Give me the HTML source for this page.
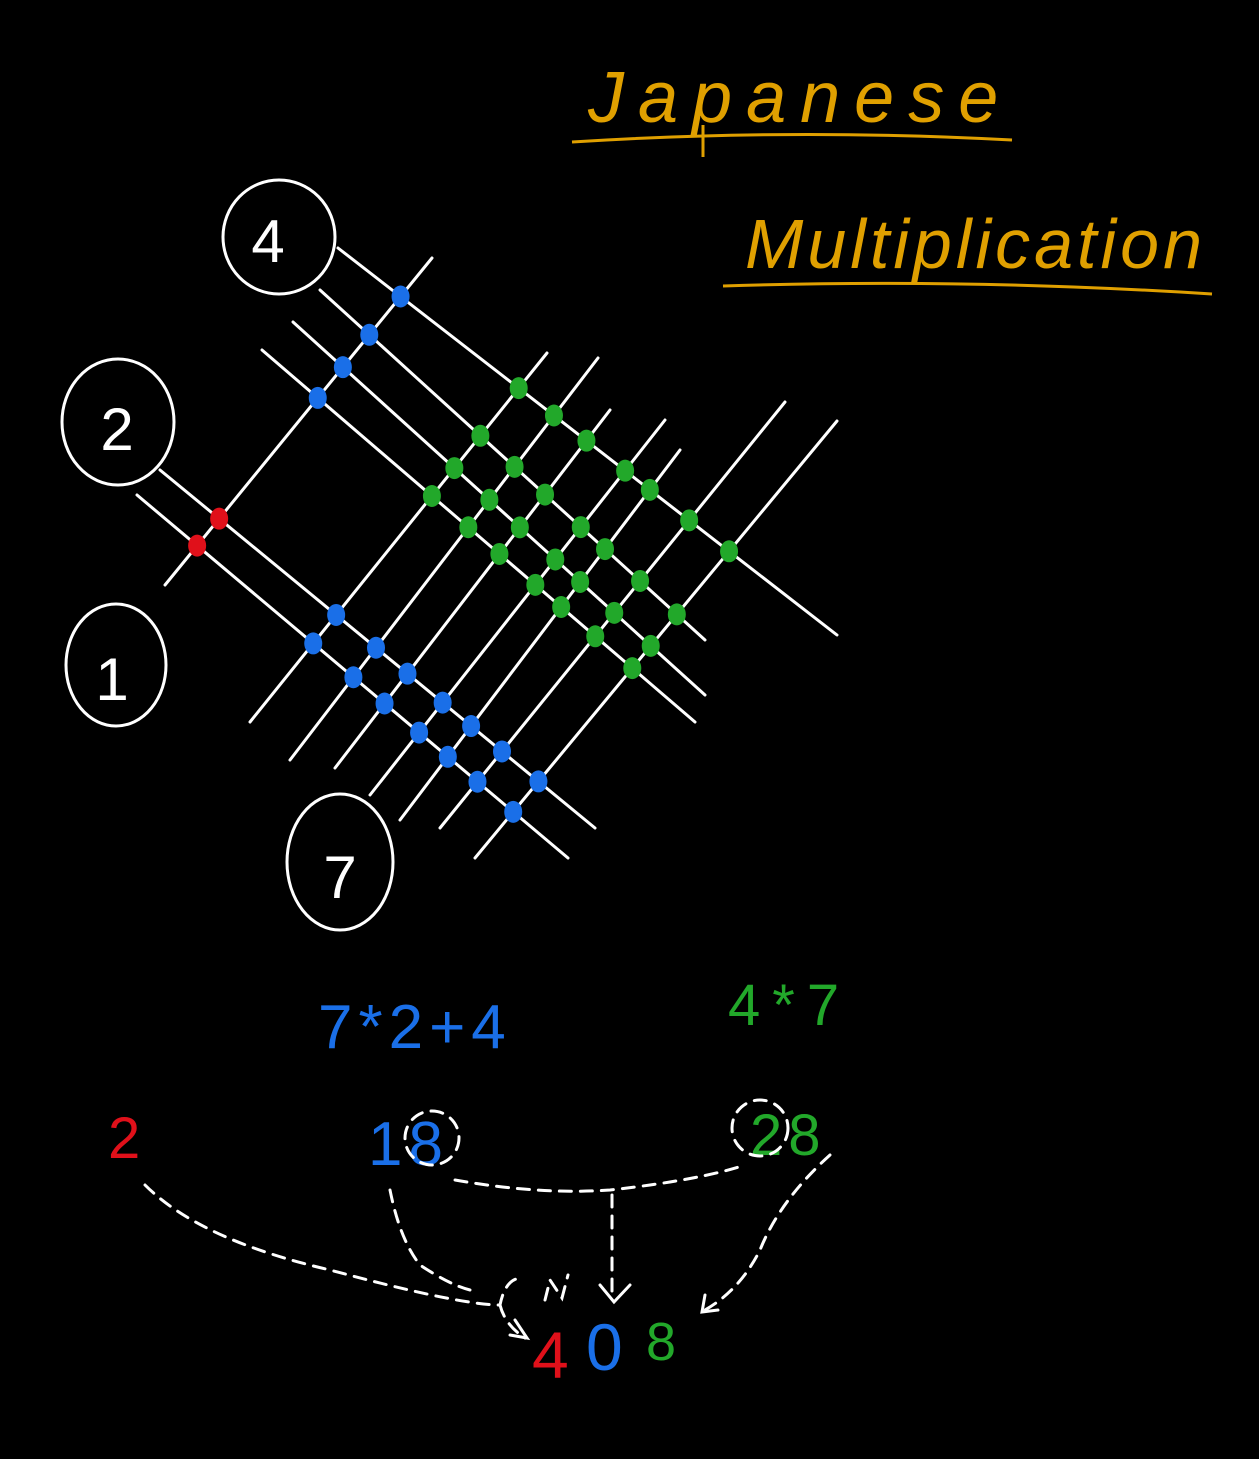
<!DOCTYPE html>
<html><head><meta charset="utf-8"><style>
html,body{margin:0;padding:0;background:#000;}
svg{display:block}
text{font-family:"Liberation Sans",sans-serif;}
</style></head><body>
<svg id="s" width="1259" height="1459" viewBox="0 0 1259 1459" xmlns="http://www.w3.org/2000/svg">
<rect width="1259" height="1459" fill="#000"/>
<!-- title -->
<text x="588" y="122" fill="#e0a000" font-size="72" letter-spacing="14" font-family="Liberation Serif, serif" font-style="italic">Japanese</text>
<path d="M572 142 Q790 128 1012 140" stroke="#e0a000" stroke-width="3" fill="none"/>
<line x1="703" y1="125" x2="703" y2="157" stroke="#e0a000" stroke-width="3"/>
<text x="745" y="268" fill="#e0a000" font-size="70" letter-spacing="8" font-family="Liberation Serif, serif" font-style="italic" textLength="465">Multiplication</text>
<path d="M723 286 Q960 278 1212 294" stroke="#e0a000" stroke-width="3" fill="none"/>
<g id="lines" stroke="#fff" stroke-width="3" fill="none" stroke-linecap="round"></g>
<g id="dots"></g>
<!-- circles -->
<g stroke="#fff" stroke-width="3" fill="none">
<ellipse cx="279" cy="237" rx="56" ry="57"/>
<ellipse cx="118" cy="422" rx="56" ry="63"/>
<ellipse cx="116" cy="665" rx="50" ry="61"/>
<ellipse cx="340" cy="862" rx="53" ry="68"/>
</g>
<g fill="#fff" font-size="60" text-anchor="middle">
<text x="268" y="262">4</text>
<text x="117" y="450">2</text>
<text x="112" y="700">1</text>
<text x="340" y="898">7</text>
</g>
<!-- bottom -->
<text x="318" y="1048" fill="#1a6fe8" font-size="62" letter-spacing="6">7*2+4</text>
<text x="728" y="1025" fill="#22a82a" font-size="58" letter-spacing="12">4*7</text>
<text x="108" y="1158" fill="#e0101a" font-size="58">2</text>
<text x="368" y="1165" fill="#1a6fe8" font-size="62" letter-spacing="6">18</text>
<text x="750" y="1155" fill="#22a82a" font-size="58" letter-spacing="6">28</text>
<text x="532" y="1378" fill="#e0101a" font-size="66">4</text>
<text x="586" y="1370" fill="#1a6fe8" font-size="66">0</text>
<text x="646" y="1360" fill="#22a82a" font-size="54">8</text>
<g stroke="#fff" stroke-width="3" fill="none" stroke-dasharray="12 9" stroke-linecap="round">
<circle cx="432" cy="1138" r="27"/>
<circle cx="760" cy="1128" r="28"/>
<path d="M145 1185 Q200 1240 330 1270 Q460 1305 500 1305 Q505 1280 520 1278"/>
<path d="M500 1305 Q505 1325 525 1338"/>
<path d="M390 1190 Q400 1240 420 1265 Q450 1285 470 1290"/>
<path d="M455 1180 Q540 1195 610 1190 Q700 1180 745 1165"/>
<path d="M612 1195 L612 1300"/>
<path d="M830 1155 Q780 1200 760 1250 Q740 1290 705 1310"/>
<path d="M545 1300 L550 1280 L562 1298 L568 1275"/>
</g>
<g stroke="#fff" stroke-width="3" fill="none" stroke-linecap="round">
<path d="M600 1285 L614 1302 L630 1285"/>
<path d="M515 1320 L527 1338 L510 1335"/>
<path d="M705 1295 L702 1312 L718 1310"/>
</g>
</svg>
<script>
var A=[[160,470,595,828],[137,495,568,858]];
var B=[[338,248,837,635],[320,290,705,640],[293,322,705,695],[262,350,695,722]];
var C=[[165,585,432,258]];
var D=[[250,722,547,353],[290,760,598,358],[335,768,610,410],[370,795,665,420],[400,820,680,450],[440,828,785,402],[475,858,837,421]];
var ns="http://www.w3.org/2000/svg";
var lg=document.getElementById("lines"),dg=document.getElementById("dots");
[A,B,C,D].forEach(function(g){g.forEach(function(l){var e=document.createElementNS(ns,"line");
e.setAttribute("x1",l[0]);e.setAttribute("y1",l[1]);e.setAttribute("x2",l[2]);e.setAttribute("y2",l[3]);lg.appendChild(e);});});
function inter(p,q){var x1=p[0],y1=p[1],x2=p[2],y2=p[3],x3=q[0],y3=q[1],x4=q[2],y4=q[3];
var d=(x1-x2)*(y3-y4)-(y1-y2)*(x3-x4);var t=((x1-x3)*(y3-y4)-(y1-y3)*(x3-x4))/d;return [x1+t*(x2-x1),y1+t*(y2-y1)];}
function dots(G,H,c){G.forEach(function(p){H.forEach(function(q){var r=inter(p,q);var e=document.createElementNS(ns,"ellipse");
e.setAttribute("cx",r[0]);e.setAttribute("cy",r[1]);e.setAttribute("rx",9);e.setAttribute("ry",11);e.setAttribute("fill",c);dg.appendChild(e);});});}
dots(A,C,"#e0101a");dots(A,D,"#1a6fe8");dots(B,C,"#1a6fe8");dots(B,D,"#22a82a");
</script>
</body></html>
